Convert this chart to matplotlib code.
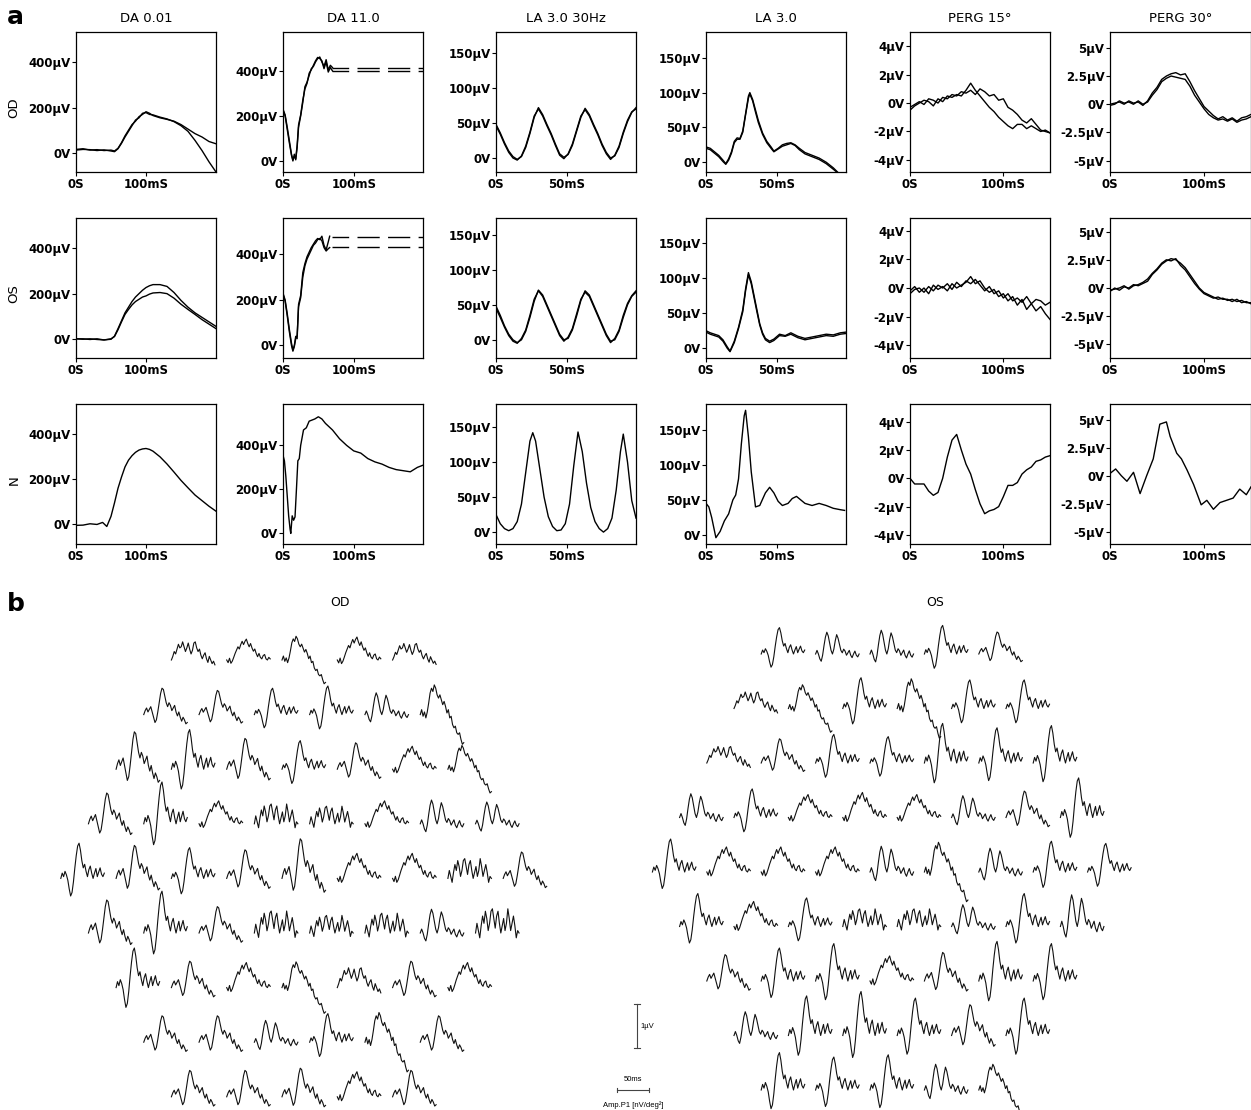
import matplotlib
matplotlib.use('Agg')
import matplotlib.pyplot as plt
import numpy as np

W, H = 1251, 1110
plt.rcParams['font.family'] = ['DejaVu Sans']

# ---------------- panel a data ----------------
DA001_T = [0, 10, 20, 30, 40, 50, 55, 60, 65, 70, 75, 80, 85, 90, 95, 100, 105, 110,
           120, 130, 140, 150, 160, 170, 180, 190, 200]
DA001_OD_A = [15, 18, 12, 14, 10, 12, 8, 20, 45, 75, 100, 125, 140, 160, 170, 182, 175, 165,
              155, 148, 140, 125, 105, 85, 70, 50, 40]
DA001_OD_B = [12, 15, 14, 10, 13, 8, 5, 18, 42, 70, 95, 120, 145, 155, 175, 178, 170, 168,
              158, 150, 138, 120, 95, 55, 10, -40, -85]
DA001_OS_A = [0, -2, 0, -3, -5, -2, 12, 45, 80, 115, 140, 165, 185, 200, 215, 227, 235, 240,
              240, 232, 205, 170, 140, 115, 95, 75, 55]
DA001_OS_B = [0, 0, -3, 0, -5, 0, 10, 40, 75, 108, 130, 150, 165, 175, 185, 190, 198, 203,
              205, 200, 180, 153, 130, 108, 85, 65, 45]
DA001_N_T = [0, 10, 20, 30, 38, 44, 50, 55, 60, 65, 70, 75, 80, 85, 90, 95, 100, 105, 110,
             120, 130, 140, 150, 160, 170, 180, 190, 200]
DA001_N = [-5, -4, 2, -1, 8, -10, 35, 95, 160, 210, 255, 285, 305, 320, 330, 335, 337, 333, 325,
           300, 268, 232, 195, 162, 130, 105, 80, 58]

DA11_OD_T = [0, 3, 6, 9, 12, 14, 16, 18, 20, 22, 25, 28, 31, 34, 37, 40, 43, 46, 49, 52,
             55, 58, 61, 64, 67, 70]
DA11_OD_A = [225, 200, 140, 80, 25, 0, 30, 5, 60, 150, 200, 260, 330, 350, 380, 410, 420, 440,
             455, 462, 440, 420, 450, 405, 425, 415]
DA11_OD_B = [230, 205, 150, 90, 30, 5, 20, 10, 70, 160, 205, 270, 320, 345, 390, 405, 425, 445,
             460, 455, 445, 410, 440, 395, 415, 400]
DA11_OD_CUT = [415, 400]
DA11_OS_T = [0, 3, 6, 9, 12, 14, 16, 18, 20, 22, 25, 28, 31, 34, 37, 40, 43, 46, 49, 52,
             55, 58, 61, 64, 66]
DA11_OS_A = [230, 200, 140, 70, 10, -20, 0, 40, 30, 180, 220, 320, 360, 390, 410, 430, 445, 460,
             470, 465, 480, 440, 420, 455, 480]
DA11_OS_B = [225, 195, 130, 60, 0, -25, -5, 30, 45, 170, 210, 300, 350, 380, 400, 420, 440, 450,
             465, 470, 460, 430, 415, 425, 430]
DA11_OS_CUT = [476, 431]
DA11_CUT_T = [70, 198]
DA11_N_T = [0, 2, 4, 6, 8, 10, 11, 13, 15, 17, 19, 21, 23, 25, 29, 33, 37, 41, 45, 50,
            55, 60, 70, 80, 90, 100, 110, 120, 130, 140, 150, 160, 170, 180, 190, 198]
DA11_N = [355, 330, 260, 170, 80, 20, 0, 80, 60, 75, 200, 330, 340, 400, 470, 480, 510, 515, 520, 530,
          520, 500, 470, 430, 400, 375, 365, 340, 325, 315, 300, 290, 285, 280, 300, 310]

LA30_T = [0, 3, 6, 9, 12, 15, 18, 21, 24, 27, 30, 33, 36, 39, 42, 45, 48, 51, 54, 57,
          60, 63, 66, 69, 72, 75, 78, 81, 84, 87, 90, 93, 96, 99]
LA30_OD_A = [48, 36, 22, 10, 2, -2, 2, 15, 35, 58, 72, 62, 48, 35, 20, 6, 1, 5, 18, 38,
             58, 71, 62, 48, 35, 20, 8, 0, 3, 15, 35, 52, 65, 72]
LA30_OD_B = [46, 34, 20, 8, 0, -3, 3, 17, 37, 60, 70, 60, 46, 33, 18, 4, -1, 6, 20, 40,
             60, 69, 60, 46, 33, 18, 6, -2, 4, 17, 37, 54, 66, 70]
LA30_OS_A = [48, 35, 20, 8, 0, -4, 0, 12, 32, 55, 71, 64, 50, 36, 22, 8, 0, 2, 14, 34,
             56, 70, 64, 50, 36, 22, 8, -2, 0, 12, 32, 50, 62, 68]
LA30_OS_B = [45, 32, 18, 6, -2, -5, 2, 14, 35, 58, 70, 62, 48, 34, 20, 6, -2, 4, 16, 37,
             58, 68, 62, 48, 34, 20, 6, -4, 2, 14, 35, 52, 63, 70]
LA30_N_T = [0, 3, 6, 9, 12, 15, 18, 21, 24, 26, 28, 31, 34, 37, 40, 43, 46, 49, 52, 55,
            58, 61, 64, 67, 70, 73, 76, 79, 82, 85, 88, 90, 93, 96, 99]
LA30_N = [25, 12, 5, 2, 5, 15, 40, 85, 130, 142, 130, 90, 50, 22, 8, 2, 3, 12, 40, 95,
          143, 115, 70, 35, 15, 5, 0, 5, 20, 60, 115, 140, 100, 45, 20]

LA3_OD_T = [0, 3, 6, 9, 12, 14, 16, 18, 20, 22, 24, 26, 28, 30, 31, 33, 35, 37, 40, 43,
            46, 48, 51, 54, 57, 60, 63, 66, 70, 75, 80, 85, 90, 93]
LA3_OD_A = [22, 20, 15, 10, 3, -2, 5, 15, 30, 35, 34, 45, 70, 95, 100, 90, 75, 60, 42, 30,
            22, 16, 20, 25, 27, 28, 25, 20, 14, 10, 6, 0, -8, -14]
LA3_OD_B = [20, 18, 13, 8, 1, -3, 3, 13, 28, 33, 33, 43, 68, 92, 98, 88, 72, 57, 40, 28,
            20, 15, 19, 23, 25, 27, 24, 18, 12, 8, 4, -2, -10, -15]
LA3_OS_T = [0, 3, 6, 9, 12, 15, 17, 20, 23, 26, 28, 30, 32, 34, 36, 38, 40, 42, 45, 48,
            52, 56, 60, 65, 70, 75, 80, 85, 90, 95, 99]
LA3_OS_A = [25, 22, 20, 18, 12, 2, -4, 10, 30, 55, 85, 108, 95, 75, 55, 35, 22, 14, 10, 13,
            20, 18, 22, 17, 14, 16, 18, 20, 19, 22, 23]
LA3_OS_B = [23, 20, 18, 16, 10, 0, -5, 8, 28, 52, 82, 105, 92, 72, 52, 33, 20, 12, 8, 11,
            18, 17, 20, 15, 12, 14, 16, 18, 17, 20, 21]
LA3_N_T = [0, 2, 4, 7, 10, 13, 16, 19, 21, 23, 25, 27, 28, 30, 32, 35, 38, 42, 45, 48,
           51, 54, 58, 61, 64, 67, 70, 75, 80, 85, 90, 95, 98]
LA3_N = [45, 40, 25, -4, 5, 20, 30, 50, 57, 80, 130, 170, 178, 140, 90, 40, 42, 60, 68, 60,
         48, 42, 45, 52, 55, 50, 45, 42, 45, 42, 38, 36, 35]

PERG_T = [0, 5, 10, 15, 20, 25, 30, 35, 40, 45, 50, 55, 60, 65, 70, 75, 80, 85, 90, 95,
          100, 105, 110, 115, 120, 125, 130, 135, 140, 145, 150]
PERG15_OD_A = [-0.5, -0.2, 0.0, 0.2, 0.1, -0.2, 0.3, 0.1, 0.5, 0.4, 0.6, 0.5, 0.9, 1.4, 0.9, 0.5,
               0.1, -0.3, -0.6, -1.0, -1.3, -1.6, -1.8, -1.5, -1.5, -1.8, -1.6, -1.8, -2.0, -1.9, -2.1]
PERG15_OD_B = [-0.3, -0.1, 0.1, -0.1, 0.3, 0.2, 0.0, 0.4, 0.3, 0.6, 0.5, 0.8, 0.7, 0.9, 0.6, 1.0,
               0.8, 0.5, 0.6, 0.2, 0.3, -0.3, -0.5, -0.8, -1.2, -1.4, -1.1, -1.5, -1.9, -2.0, -2.1]
PERG15_OS_A = [-0.2, 0.1, -0.3, 0.0, -0.4, 0.2, -0.1, 0.1, -0.2, 0.3, 0.0, 0.2, 0.4, 0.8, 0.3, 0.5,
               0.0, -0.3, -0.1, -0.6, -0.4, -0.9, -0.6, -1.2, -0.8, -1.5, -1.1, -1.6, -1.3, -1.8, -2.2]
PERG15_OS_B = [-0.4, -0.1, 0.0, -0.3, 0.1, -0.2, 0.2, 0.0, 0.3, -0.1, 0.4, 0.1, 0.5, 0.3, 0.6, 0.2,
               -0.2, 0.1, -0.4, -0.2, -0.7, -0.4, -0.9, -0.7, -1.0, -0.6, -1.1, -0.8, -0.9, -1.2, -1.0]
PERG15_N = [0.0, -0.4, -0.4, -0.4, -0.9, -1.2, -1.0, 0.0, 1.5, 2.7, 3.1, 2.0, 1.0, 0.3, -0.8, -1.8,
            -2.5, -2.3, -2.2, -2.0, -1.3, -0.5, -0.5, -0.3, 0.3, 0.6, 0.8, 1.2, 1.3, 1.5, 1.6]
PERG30_OD_A = [0.0, 0.1, 0.2, 0.0, 0.3, 0.1, 0.2, -0.1, 0.3, 1.0, 1.5, 2.2, 2.5, 2.7, 2.8, 2.6,
               2.7, 2.0, 1.2, 0.5, -0.2, -0.6, -1.0, -1.3, -1.1, -1.4, -1.2, -1.5, -1.2, -1.1, -0.9]
PERG30_OD_B = [-0.1, 0.0, 0.3, 0.1, 0.2, 0.0, 0.3, 0.0, 0.2, 0.8, 1.3, 2.0, 2.3, 2.5, 2.4, 2.3,
               2.2, 1.6, 0.8, 0.2, -0.4, -0.9, -1.2, -1.4, -1.3, -1.5, -1.3, -1.6, -1.4, -1.3, -1.1]
PERG30_OS_A = [-0.3, 0.0, -0.2, 0.1, 0.0, 0.3, 0.2, 0.4, 0.6, 1.2, 1.6, 2.1, 2.4, 2.6, 2.5, 2.2,
               1.8, 1.2, 0.6, 0.0, -0.4, -0.6, -0.8, -1.0, -0.9, -1.1, -1.0, -1.2, -1.1, -1.3, -1.3]
PERG30_OS_B = [-0.2, -0.1, 0.0, 0.2, -0.1, 0.2, 0.3, 0.5, 0.8, 1.3, 1.7, 2.2, 2.5, 2.4, 2.6, 2.0,
               1.6, 1.0, 0.4, -0.1, -0.5, -0.7, -0.9, -0.8, -1.0, -1.0, -1.2, -1.0, -1.3, -1.2, -1.4]
PERG30_N_T = [0, 6, 12, 18, 25, 32, 39, 46, 53, 60, 64, 71, 76, 82, 89, 97, 103, 110, 117, 124,
              131, 138, 145, 150]
PERG30_N = [0.2, 0.6, 0.0, -0.5, 0.3, -1.6, 0.0, 1.5, 4.6, 4.8, 3.5, 2.0, 1.5, 0.5, -0.8, -2.6,
            -2.2, -3.0, -2.4, -2.2, -2.0, -1.2, -1.7, -1.0]

COL_TITLES = ['DA 0.01', 'DA 11.0', 'LA 3.0 30Hz', 'LA 3.0', 'PERG 15°', 'PERG 30°']
ROW_LABELS = ['OD', 'OS', 'N']

# ---------------- panel b data (mfERG, µV per unit gain) ----------------
MF_TEMPLATES = [
    # 0: classic N1/P1
    [0.0, 0.15, 0.25, 0.1, 0.2, 0.3, 0.1, -0.1, -0.3, -0.2, 0.1, 0.45, 0.8, 1.0, 0.95, 0.7,
     0.45, 0.3, 0.45, 0.35, 0.15, 0.25, 0.35, 0.1, -0.05, 0.1, -0.1, -0.25, -0.1, -0.2, -0.35, -0.3],
    # 1: low, several bumps
    [0.0, 0.15, 0.35, 0.25, 0.45, 0.65, 0.5, 0.55, 0.75, 0.55, 0.35, 0.5, 0.7, 0.45, 0.25, 0.4,
     0.7, 0.75, 0.5, 0.35, 0.45, 0.2, 0.05, 0.2, 0.3, 0.05, -0.1, 0.15, 0.0, -0.15, -0.05, -0.2],
    # 2: deep N1 then tall P1
    [0.0, 0.15, 0.05, 0.2, 0.1, -0.05, -0.3, -0.5, -0.4, -0.1, 0.3, 0.65, 0.92, 1.0, 0.8, 0.5,
     0.3, 0.4, 0.2, 0.05, 0.25, 0.35, 0.15, 0.0, 0.15, 0.28, 0.05, 0.18, 0.3, 0.12, 0.05, 0.15],
    # 3: flat, wiggly
    [0.0, 0.2, 0.05, -0.1, 0.15, 0.35, 0.2, 0.45, 0.3, 0.05, 0.2, 0.45, 0.5, 0.3, 0.1, 0.35,
     0.45, 0.2, 0.0, 0.15, 0.3, 0.05, 0.2, 0.5, 0.3, 0.05, 0.2, 0.35, 0.15, -0.1, 0.05, 0.0],
    # 4: peak then downward drift
    [0.0, 0.15, -0.05, 0.08, -0.1, 0.08, 0.35, 0.65, 0.8, 0.7, 0.9, 0.8, 0.6, 0.5, 0.6, 0.45,
     0.3, 0.4, 0.25, 0.05, 0.15, -0.1, -0.05, -0.3, -0.4, -0.35, -0.55, -0.6, -0.55, -0.75, -0.9, -0.85],
    # 5: rise to plateau
    [0.0, -0.12, 0.08, -0.15, -0.05, 0.12, 0.3, 0.45, 0.6, 0.5, 0.7, 0.85, 0.7, 0.85, 0.95, 0.75,
     0.6, 0.75, 0.55, 0.4, 0.5, 0.3, 0.15, 0.3, 0.12, 0.05, 0.2, 0.25, 0.05, 0.0, 0.12, 0.05],
    # 6: double peak
    [0.0, 0.15, 0.0, -0.2, -0.3, -0.05, 0.35, 0.7, 0.9, 0.75, 0.45, 0.15, 0.0, 0.2, 0.55, 0.8,
     0.65, 0.4, 0.15, 0.05, 0.2, 0.12, -0.05, 0.05, 0.15, -0.05, -0.15, 0.0, 0.12, -0.05, -0.12, 0.0],
]
MF_T = np.linspace(0, 68, 32)

OD_SHAPE = [
    [1, 5, 4, 5, 1],
    [0, 0, 2, 2, 6, 4],
    [0, 2, 0, 2, 0, 5, 4],
    [0, 2, 5, 3, 3, 5, 6, 6],
    [2, 0, 2, 0, 0, 5, 5, 3, 0],
    [0, 2, 0, 3, 3, 3, 6, 3],
    [2, 0, 5, 4, 1, 0, 5],
    [0, 0, 6, 2, 4, 0],
    [0, 0, 0, 5, 0],
]
OD_GAIN = [
    [0.55, 0.5, 0.6, 0.55, 0.5],
    [0.6, 0.55, 0.6, 0.65, 0.55, 0.75],
    [0.85, 0.9, 0.7, 0.65, 0.6, 0.55, 0.6],
    [0.7, 0.95, 0.55, 0.9, 0.8, 0.55, 0.6, 0.55],
    [0.8, 0.75, 0.7, 0.65, 0.9, 0.6, 0.6, 0.9, 0.6],
    [0.75, 0.95, 0.6, 1.0, 0.8, 0.9, 0.6, 1.1],
    [0.9, 0.6, 0.6, 0.65, 0.6, 0.6, 0.6],
    [0.6, 0.6, 0.55, 0.65, 0.75, 0.6],
    [0.6, 0.6, 0.65, 0.6, 0.6],
]
OS_SHAPE = [
    [2, 6, 6, 2, 0],
    [1, 4, 2, 4, 2, 2],
    [1, 0, 2, 2, 2, 2, 2],
    [6, 2, 5, 5, 5, 6, 0, 2],
    [2, 5, 5, 5, 6, 4, 6, 2, 2],
    [2, 5, 2, 3, 3, 6, 2, 6],
    [0, 2, 2, 5, 0, 2, 2],
    [6, 2, 2, 2, 0, 2],
    [2, 2, 2, 6, 4],
]
OS_GAIN = [
    [0.6, 0.55, 0.6, 0.65, 0.5],
    [0.5, 0.6, 0.7, 0.75, 0.65, 0.65],
    [0.5, 0.55, 0.65, 0.6, 0.9, 0.8, 0.85],
    [0.6, 0.65, 0.55, 0.6, 0.55, 0.55, 0.6, 0.9],
    [0.75, 0.6, 0.6, 0.6, 0.65, 0.75, 0.6, 0.7, 0.65],
    [0.75, 0.6, 0.65, 0.8, 0.8, 0.55, 0.75, 0.8],
    [0.6, 0.75, 0.85, 0.6, 0.65, 0.9, 0.85],
    [0.6, 0.9, 1.0, 0.85, 0.7, 0.85],
    [0.85, 0.75, 0.8, 0.65, 0.65],
]

# ---------------- figure ----------------
fig = plt.figure(figsize=(W / 100, H / 100), dpi=100)
fig.patch.set_facecolor('white')

COL_X = [76, 283, 496, 706, 910, 1110]
ROW_Y = [32, 218, 404]
AX_W, AX_H = 140, 140


def px_axes(x, y, w, h):
    return fig.add_axes([x / W, 1 - (y + h) / H, w / W, h / H])


# per column: traces per row, ylims per row, ticks
cols = [
    dict(rows=[[(DA001_T, DA001_OD_A), (DA001_T, DA001_OD_B)],
               [(DA001_T, DA001_OS_A), (DA001_T, DA001_OS_B)],
               [(DA001_N_T, DA001_N)]],
         ylims=[(-85, 535), (-85, 535), (-88, 535)], xlim=(0, 200),
         yt=[0, 200, 400], ytl=['0V', '200µV', '400µV'], xt=100, xtl='100mS'),
    dict(rows=[[(DA11_OD_T, DA11_OD_A), (DA11_OD_T, DA11_OD_B)],
               [(DA11_OS_T, DA11_OS_A), (DA11_OS_T, DA11_OS_B)],
               [(DA11_N_T, DA11_N)]],
         ylims=[(-49, 573), (-55, 560), (-48, 588)], xlim=(0, 198),
         yt=[0, 200, 400], ytl=['0V', '200µV', '400µV'], xt=100, xtl='100mS'),
    dict(rows=[[(LA30_T, LA30_OD_A), (LA30_T, LA30_OD_B)],
               [(LA30_T, LA30_OS_A), (LA30_T, LA30_OS_B)],
               [(LA30_N_T, LA30_N)]],
         ylims=[(-20, 180), (-26, 174), (-17, 183)], xlim=(0, 99),
         yt=[0, 50, 100, 150], ytl=['0V', '50µV', '100µV', '150µV'], xt=50, xtl='50mS'),
    dict(rows=[[(LA3_OD_T, LA3_OD_A), (LA3_OD_T, LA3_OD_B)],
               [(LA3_OS_T, LA3_OS_A), (LA3_OS_T, LA3_OS_B)],
               [(LA3_N_T, LA3_N)]],
         ylims=[(-14, 187), (-14, 186), (-13, 187)], xlim=(0, 99),
         yt=[0, 50, 100, 150], ytl=['0V', '50µV', '100µV', '150µV'], xt=50, xtl='50mS'),
    dict(rows=[[(PERG_T, PERG15_OD_A), (PERG_T, PERG15_OD_B)],
               [(PERG_T, PERG15_OS_A), (PERG_T, PERG15_OS_B)],
               [(PERG_T, PERG15_N)]],
         ylims=[(-4.85, 5.0), (-4.9, 4.9), (-4.64, 5.25)], xlim=(0, 150),
         yt=[-4, -2, 0, 2, 4], ytl=['-4µV', '-2µV', '0V', '2µV', '4µV'], xt=100, xtl='100mS'),
    dict(rows=[[(PERG_T, PERG30_OD_A), (PERG_T, PERG30_OD_B)],
               [(PERG_T, PERG30_OS_A), (PERG_T, PERG30_OS_B)],
               [(PERG30_N_T, PERG30_N)]],
         ylims=[(-6.0, 6.4), (-6.2, 6.2), (-6.1, 6.4)], xlim=(0, 150),
         yt=[-5, -2.5, 0, 2.5, 5], ytl=['-5µV', '-2.5µV', '0V', '2.5µV', '5µV'], xt=100, xtl='100mS'),
]

for c, col in enumerate(cols):
    for r in range(3):
        ax = px_axes(COL_X[c], ROW_Y[r], AX_W + (1 if c == 5 else 0), AX_H)
        for t, v in col['rows'][r]:
            ax.plot(t, v, color='black', lw=1.0)
        if c == 1 and r < 2:
            cut = DA11_OD_CUT if r == 0 else DA11_OS_CUT
            for level in cut:
                ax.plot(DA11_CUT_T, [level, level], color='black', lw=1.0,
                        linestyle=(4, (16, 6)))
        ax.set_xlim(*col['xlim'])
        ax.set_ylim(*col['ylims'][r])
        ax.set_yticks(col['yt'])
        ax.set_yticklabels(col['ytl'])
        ax.set_xticks([0, col['xt']])
        ax.set_xticklabels(['0S', col['xtl']])
        ax.tick_params(axis='both', direction='out', length=3, width=0.8, pad=1,
                       labelsize=8.5, color='black')
        for lab in ax.get_xticklabels() + ax.get_yticklabels():
            lab.set_fontweight('bold')
        for s in ax.spines.values():
            s.set_linewidth(0.9)
        if r == 0:
            ax.set_title(COL_TITLES[c], fontsize=9.5, pad=7)

for r, lab in enumerate(ROW_LABELS):
    fig.text(14 / W, 1 - (ROW_Y[r] + 76) / H, lab, rotation=90, ha='center', va='center', fontsize=9.5)

fig.text(7 / W, 1 - 5 / H, 'a', fontsize=18, fontweight='bold', ha='left', va='top')
fig.text(7 / W, 1 - 592 / H, 'b', fontsize=18, fontweight='bold', ha='left', va='top')

# ---------------- panel b ----------------
MS_PER_PX = 50 / 32
UV_PER_PX = 1 / 44
B_TOP = 590
axb = fig.add_axes([0, 0, 1, (H - B_TOP) / H])
axb.set_xlim(0, W * MS_PER_PX)
axb.set_ylim(0, (H - B_TOP) * UV_PER_PX)
axb.axis('off')


def draw_field(cx, spacing, y0, dy, shapes, gains):
    for r, (sids, gs) in enumerate(zip(shapes, gains)):
        n = len(sids)
        y_px = y0 + r * dy
        for k, (sid, g) in enumerate(zip(sids, gs)):
            x_px = cx - (n - 1) / 2 * spacing + k * spacing
            t = x_px * MS_PER_PX + MF_T
            v = (H - y_px) * UV_PER_PX + g * np.array(MF_TEMPLATES[sid])
            axb.plot(t, v, color='#111111', lw=0.8)


draw_field(282, 55.3, 660, 54.6, OD_SHAPE, OD_GAIN)
draw_field(870, 54.4, 654, 54.5, OS_SHAPE, OS_GAIN)

axb.text(340 * MS_PER_PX, (H - 602) * UV_PER_PX, 'OD', ha='center', va='center', fontsize=9)
axb.text(935 * MS_PER_PX, (H - 602) * UV_PER_PX, 'OS', ha='center', va='center', fontsize=9)

# scale bars: 1 µV and 50 ms
bx = 637 * MS_PER_PX
by0 = (H - 1048) * UV_PER_PX
axb.plot([bx, bx], [by0, by0 + 1], color='#444444', lw=0.8)
for yy in (by0, by0 + 1):
    axb.plot([bx - 3 * MS_PER_PX, bx + 3 * MS_PER_PX], [yy, yy], color='#444444', lw=0.8)
axb.text(bx + 3 * MS_PER_PX, by0 + 0.5, '1µV', fontsize=5.5, va='center', ha='left',
         family='Liberation Sans')
hx0 = 617 * MS_PER_PX
hy = (H - 1090) * UV_PER_PX
axb.plot([hx0, hx0 + 50], [hy, hy], color='#444444', lw=0.8)
for xx in (hx0, hx0 + 50):
    axb.plot([xx, xx], [hy - 2 * UV_PER_PX, hy + 2 * UV_PER_PX], color='#444444', lw=0.8)
axb.text(hx0 + 25, hy + 7 * UV_PER_PX, '50ms', fontsize=5.5, ha='center', va='bottom',
         family='Liberation Sans')
axb.text(hx0 + 25, (H - 1105) * UV_PER_PX, 'Amp.P1 [nV/deg²]', fontsize=5.5, ha='center',
         va='center', family='Liberation Sans')

plt.savefig('out.png', dpi=100, facecolor='white')
plt.close()
